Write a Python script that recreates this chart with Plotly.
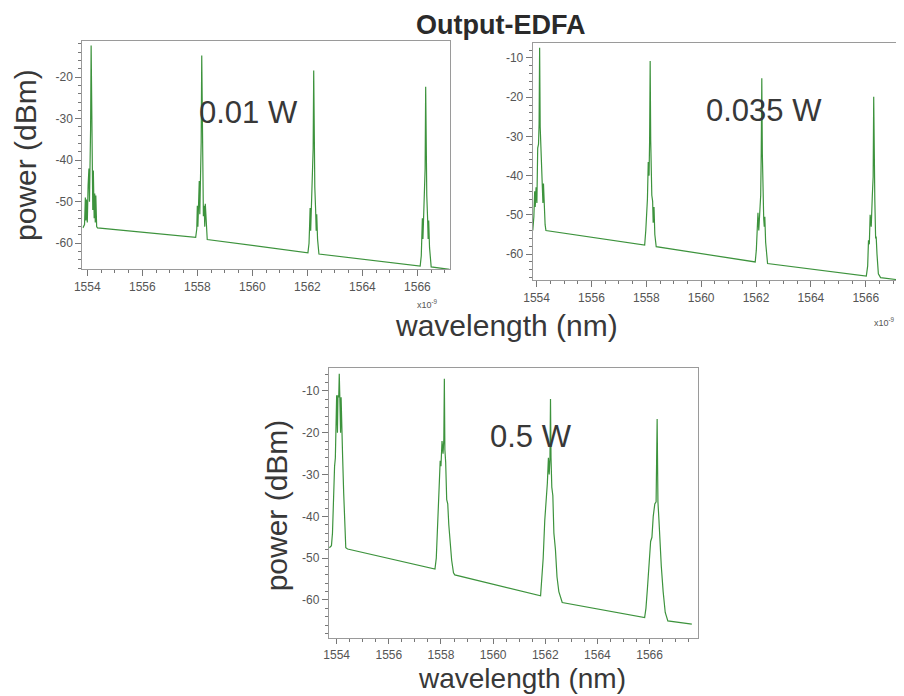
import plotly.graph_objects as go

# ---------------- data ----------------
wl_001 = [1553.84, 1553.90, 1553.93, 1553.95, 1553.97, 1554.00, 1554.03, 1554.06, 1554.08, 1554.10,
          1554.12, 1554.14, 1554.16, 1554.18, 1554.20, 1554.22, 1554.25, 1554.27, 1554.29, 1554.31,
          1554.34, 1554.37,
          1557.94, 1557.98, 1558.00, 1558.02, 1558.04, 1558.07, 1558.09, 1558.12, 1558.14, 1558.16,
          1558.18, 1558.20, 1558.22, 1558.25, 1558.27, 1558.29, 1558.32, 1558.36,
          1562.02, 1562.06, 1562.08, 1562.10, 1562.12, 1562.15, 1562.19, 1562.21, 1562.23, 1562.25,
          1562.27, 1562.30, 1562.32, 1562.34, 1562.37, 1562.42,
          1566.10, 1566.14, 1566.16, 1566.18, 1566.20, 1566.23, 1566.26, 1566.28, 1566.30, 1566.32,
          1566.34, 1566.37, 1566.39, 1566.41, 1566.44, 1566.50, 1567.17]
p_001 = [-56.3, -55.5, -49.0, -54.5, -49.5, -55.0, -46.0, -42.0, -50.0, -42.0,
         -32.5, -12.4, -32.5, -42.0, -52.0, -42.5, -54.0, -48.0, -55.0, -48.5,
         -56.0, -56.3,
         -58.6, -56.5, -51.0, -56.0, -50.5, -45.0, -53.0, -44.5, -35.5, -14.8,
         -35.5, -45.5, -53.5, -51.0, -56.0, -50.5, -56.5, -59.1,
         -62.3, -60.0, -56.0, -51.5, -57.0, -51.0, -46.0, -37.2, -18.4, -37.2,
         -46.5, -52.0, -57.0, -53.0, -59.0, -62.6,
         -65.5, -63.0, -58.5, -54.0, -59.0, -52.0, -48.0, -42.0, -22.3, -42.0,
         -48.5, -54.0, -59.0, -54.5, -61.0, -65.7, -66.3]

wl_0035 = [1553.86, 1553.90, 1553.93, 1553.95, 1553.98, 1554.01, 1554.04, 1554.07, 1554.09, 1554.11,
           1554.13, 1554.15, 1554.18, 1554.20, 1554.23, 1554.25, 1554.28, 1554.31, 1554.34,
           1557.94, 1557.98, 1558.01, 1558.04, 1558.07, 1558.10, 1558.12, 1558.14, 1558.16, 1558.18,
           1558.20, 1558.23, 1558.25, 1558.28, 1558.31, 1558.36,
           1561.97, 1562.01, 1562.04, 1562.07, 1562.10, 1562.13, 1562.17, 1562.19, 1562.21, 1562.23,
           1562.25, 1562.28, 1562.30, 1562.32, 1562.35, 1562.42,
           1566.02, 1566.07, 1566.10, 1566.13, 1566.16, 1566.20, 1566.24, 1566.27, 1566.29, 1566.31,
           1566.33, 1566.36, 1566.38, 1566.41, 1566.46, 1566.54, 1567.26]
p_0035 = [-54.0, -50.5, -44.0, -48.0, -43.0, -47.0, -33.0, -32.0, -27.0, -7.4,
          -27.5, -32.0, -33.5, -42.5, -47.0, -42.0, -48.0, -52.5, -54.0,
          -57.7, -54.0, -50.0, -46.0, -36.5, -40.0, -31.0, -10.8, -31.0, -39.0,
          -45.0, -46.5, -52.0, -48.0, -55.0, -58.1,
          -62.0, -59.0, -53.0, -49.5, -54.0, -49.0, -45.0, -34.0, -15.2, -34.5,
          -45.0, -51.0, -53.0, -50.5, -57.0, -62.4,
          -65.6, -63.0, -56.5, -57.5, -50.0, -53.0, -45.0, -40.3, -19.9, -40.5,
          -46.0, -56.0, -55.5, -60.0, -65.0, -66.0, -66.6]

wl_05 = [1553.72, 1553.80, 1553.84, 1553.88, 1553.92, 1553.95, 1553.98, 1554.00, 1554.03, 1554.05,
         1554.08, 1554.10, 1554.12, 1554.15, 1554.17, 1554.20, 1554.23, 1554.27, 1554.31, 1554.35,
         1554.42,
         1557.77, 1557.82, 1557.86, 1557.90, 1557.93, 1557.97, 1558.00, 1558.04, 1558.08, 1558.11,
         1558.13, 1558.15, 1558.18, 1558.22, 1558.26, 1558.30, 1558.35, 1558.41, 1558.48, 1558.53,
         1561.82, 1561.86, 1561.92, 1561.98, 1562.04, 1562.08, 1562.12, 1562.15, 1562.18, 1562.20,
         1562.22, 1562.25, 1562.29, 1562.33, 1562.39, 1562.45, 1562.52, 1562.65,
         1565.81, 1565.86, 1565.92, 1565.98, 1566.04, 1566.09, 1566.14, 1566.20, 1566.25, 1566.29,
         1566.32, 1566.36, 1566.40, 1566.45, 1566.52, 1566.60, 1566.70, 1567.62]
p_05 = [-47.5, -47.0, -44.0, -35.0, -28.0, -26.0, -18.0, -11.0, -20.0, -11.0,
        -11.5, -5.9, -11.0, -20.0, -11.5, -24.0, -26.0, -34.5, -42.0, -47.5,
        -47.8,
        -52.6, -50.0, -42.0, -35.5, -33.0, -26.7, -28.0, -22.0, -25.0, -21.5,
        -7.1, -24.0, -27.0, -36.0, -37.0, -42.0, -46.0, -50.5, -53.5, -54.0,
        -59.0, -55.0, -50.0, -41.0, -36.0, -32.0, -26.0, -30.0, -26.0, -11.9,
        -26.0, -33.0, -35.0, -44.0, -48.0, -54.5, -58.0, -60.6,
        -64.2, -62.0, -57.0, -52.0, -46.0, -45.0, -40.0, -37.0, -36.5, -16.7,
        -36.5, -41.0, -48.0, -52.0, -58.0, -63.0, -65.0, -65.8]

panel_labels = ["0.01 W", "0.035 W", "0.5 W"]
x_ticks = [1554, 1556, 1558, 1560, 1562, 1564, 1566]
y_ticks_a = [-60, -50, -40, -30, -20]
y_ticks_b = [-60, -50, -40, -30, -20, -10]
title_text = "Output-EDFA"
x_title = "wavelength (nm)"
y_title = "power (dBm)"
x_exp = "x10<sup>-9</sup>"

# ---------------- figure ----------------
# the page body adds a margin, so the figure is drawn a few px right / down
OFFX, OFFY = 11, 8
W, H = 904 - 8, 696 - 8
LINE = "#3d933d"
TXT = "#383838"
FONT = "Liberation Sans, Arial, sans-serif"


def fx(px):
    return (px - OFFX) / W


def fy(py):
    return 1 - (py - OFFY) / H


def px_dom_x(a, b):
    return [fx(a), fx(b)]


def px_dom_y(top, bottom):
    return [fy(bottom), fy(top)]


fig = go.Figure()
fig.add_trace(go.Scatter(x=wl_001, y=p_001, mode="lines", line=dict(color=LINE, width=1.2),
                         xaxis="x", yaxis="y", showlegend=False))
fig.add_trace(go.Scatter(x=wl_0035, y=p_0035, mode="lines", line=dict(color=LINE, width=1.2),
                         xaxis="x2", yaxis="y2", showlegend=False))
fig.add_trace(go.Scatter(x=wl_05, y=p_05, mode="lines", line=dict(color=LINE, width=1.2),
                         xaxis="x3", yaxis="y3", showlegend=False))

axis_common = dict(showline=True, mirror=True, linecolor="#9a9a9a", linewidth=1.2,
                   showgrid=False, zeroline=False, ticks="outside", ticklen=6,
                   tickcolor="#777", tickwidth=1,
                   tickfont=dict(family=FONT, size=12, color="#555"))


def xaxis(dom, rng, anchor, tl=6):
    d = dict(axis_common)
    d.update(domain=dom, range=rng, anchor=anchor, tickvals=x_ticks, ticklen=tl,
             ticktext=[str(v) for v in x_ticks],
             minor=dict(dtick=0.5, tick0=1554, ticks="outside", ticklen=3, tickcolor="#777"))
    return d


def yaxis(dom, rng, anchor, vals):
    d = dict(axis_common)
    d.update(domain=dom, range=rng, anchor=anchor, tickvals=vals,
             ticktext=[str(v) for v in vals],
             minor=dict(dtick=2, tick0=-60, ticks="outside", ticklen=3, tickcolor="#777"))
    return d


fig.update_layout(
    width=W, height=H,
    margin=dict(l=0, r=0, t=0, b=0),
    paper_bgcolor="white", plot_bgcolor="white",
    xaxis=xaxis(px_dom_x(77, 448), [1553.82, 1567.17], "y"),
    yaxis=yaxis(px_dom_y(41, 269), [-66.2, -11.3], "x", y_ticks_a),
    xaxis2=xaxis(px_dom_x(532, 903), [1553.86, 1567.25], "y2"),
    yaxis2=yaxis(px_dom_y(43, 280), [-66.6, -6.2], "x2", y_ticks_b),
    xaxis3=xaxis(px_dom_x(326, 699), [1553.70, 1567.86], "y3", tl=5),
    yaxis3=yaxis(px_dom_y(368, 638), [-69.1, -4.5], "x3", y_ticks_b),
)


def ann(text, x, y, size, bold=False, angle=0, color=TXT, yanchor="middle"):
    fig.add_annotation(text=f"<b>{text}</b>" if bold else text,
                       x=fx(x), y=fy(y), xref="paper", yref="paper",
                       xanchor="center", yanchor=yanchor, showarrow=False,
                       textangle=angle, font=dict(family=FONT, size=size, color=color))


ann(title_text, 499, OFFY, 27, bold=True, color="#2a2a2a", yanchor="top")
ann(y_title, 19, 155, 30, angle=-90)
ann(x_title, 505, 326, 30)
ann(y_title, 274, 505, 30, angle=-90)
ann(x_title, 521, 678, 28)
ann(x_exp, 426, 304, 9, color="#555")
ann(x_exp, 887, 322, 9, color="#555")
ann(panel_labels[0], 245, 112, 31)
ann(panel_labels[1], 766, 110, 31)
ann(panel_labels[2], 530, 436, 31)

fig.write_html("out.html")
